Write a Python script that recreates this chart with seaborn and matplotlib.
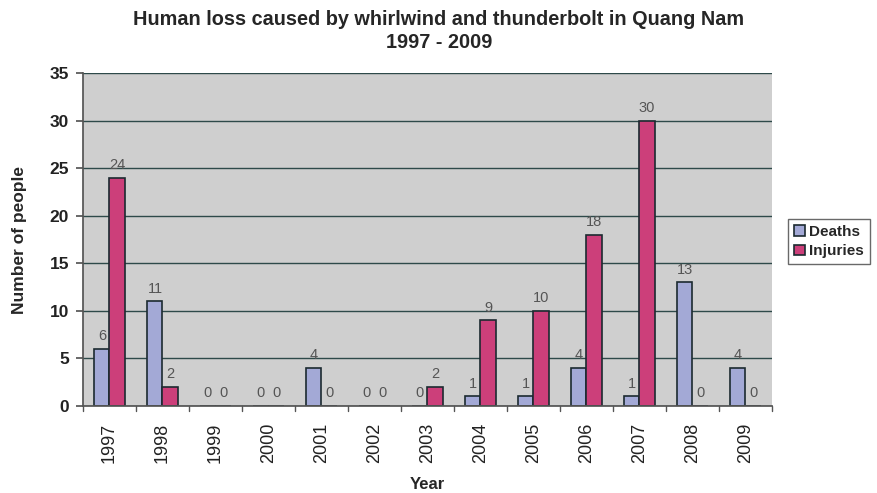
import matplotlib
matplotlib.use("Agg")
import matplotlib.pyplot as plt
import seaborn as sns
import pandas as pd

years = ["1997", "1998", "1999", "2000", "2001", "2002", "2003",
         "2004", "2005", "2006", "2007", "2008", "2009"]
deaths = [6, 11, 0, 0, 4, 0, 0, 1, 1, 4, 1, 13, 4]
injuries = [24, 2, 0, 0, 0, 0, 2, 9, 10, 18, 30, 0, 0]
series = ["Deaths", "Injuries"]

df = pd.DataFrame({
    "Year": years * 2,
    "Count": deaths + injuries,
    "Series": [series[0]] * len(years) + [series[1]] * len(years),
})

sns.set_theme(style="white")
plt.rcParams["font.family"] = ["Liberation Sans", "DejaVu Sans"]

fig = plt.figure(figsize=(8.78, 4.93), dpi=100)
ax = fig.add_axes([83 / 878, 1 - 406 / 493, (772 - 83) / 878, (406 - 73) / 493])

palette = {"Deaths": "#a3a9d6", "Injuries": "#cc3f7a"}
sns.barplot(data=df, x="Year", y="Count", hue="Series", order=years,
            hue_order=series, palette=palette, width=0.57, ax=ax,
            edgecolor="#1c2a30", linewidth=1.2, saturation=1, legend=True)

ax.set_facecolor("#cfcfcf")
ax.set_ylim(0, 35)
ax.set_yticks(range(0, 36, 5))
ax.set_xlim(-0.5, len(years) - 0.5)
ax.grid(axis="y", color="#2e4a4a", linewidth=1.0)
ax.set_axisbelow(True)
for side in ["top", "right"]:
    ax.spines[side].set_visible(False)
ax.spines["left"].set_color("#555555")
ax.spines["bottom"].set_color("#555555")

ax.tick_params(axis="y", labelsize=12.5, length=5, color="#555555",
               left=True, pad=5)
ax.tick_params(axis="x", labelsize=13, length=0, rotation=90, pad=12)
for lbl in ax.get_yticklabels():
    lbl.set_fontweight("bold")
    lbl.set_color("#222222")
for lbl in ax.get_xticklabels():
    lbl.set_color("#222222")

# small ticks between year groups
for i in range(len(years) + 1):
    ax.plot([i - 0.5, i - 0.5], [0, -0.5], color="#555555", lw=1,
            clip_on=False)

for cont in ax.containers:
    ax.bar_label(cont, labels=[f"{int(v)}" for v in cont.datavalues],
                 padding=4, fontsize=10.5, color="#555555")

ax.set_xlabel("Year", fontsize=12, fontweight="bold", labelpad=10)
ax.set_ylabel("Number of people", fontsize=12.5, fontweight="bold", labelpad=16)

leg = ax.legend(loc="upper left", bbox_to_anchor=(1.012, 0.585),
                frameon=True, fontsize=11, handlelength=0.7,
                handleheight=0.7, handletextpad=0.3, borderpad=0.4,
                labelspacing=0.35, fancybox=False)
leg.get_frame().set_edgecolor("#444444")
leg.get_frame().set_linewidth(1.0)
for t in leg.get_texts():
    t.set_fontweight("bold")

fig.suptitle("Human loss caused by whirlwind and thunderbolt in Quang Nam\n1997 - 2009",
             fontsize=14.3, fontweight="bold", y=0.98, x=0.5, linespacing=1.3)

fig.savefig("out.png", dpi=100, facecolor="white")
